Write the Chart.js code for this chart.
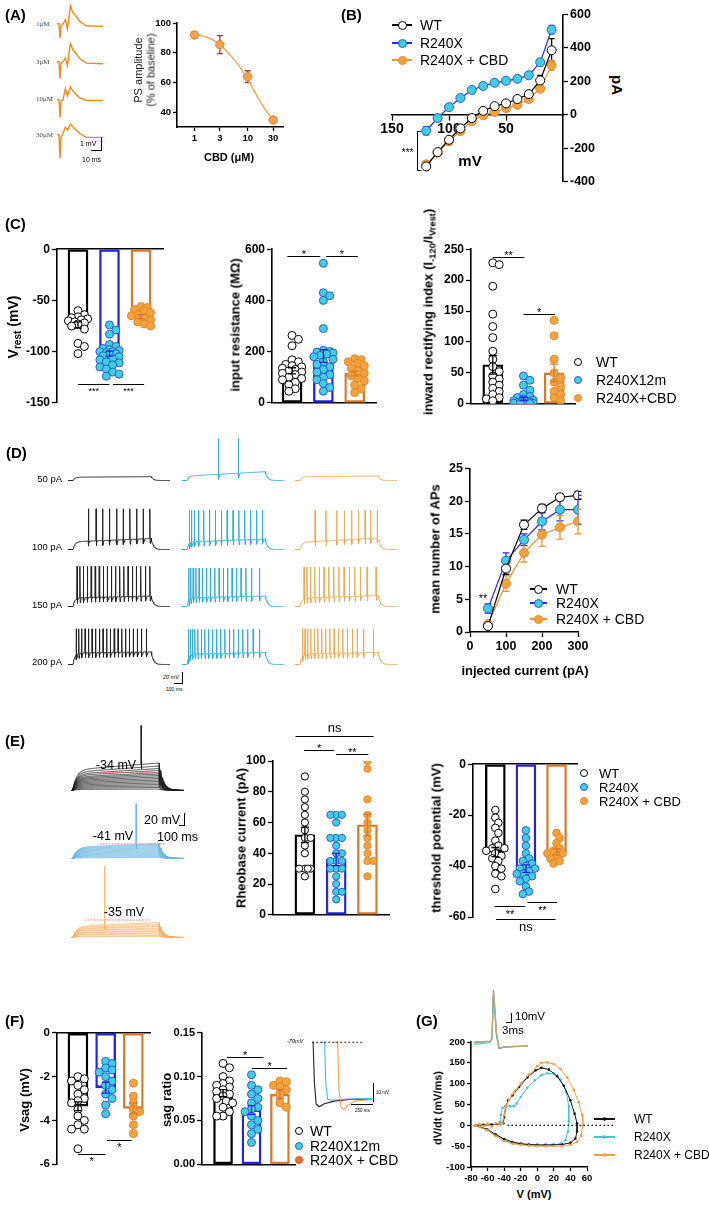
<!DOCTYPE html>
<html>
<head>
<meta charset="utf-8">
<title>R240X / CBD figure</title>
<script src="https://cdn.jsdelivr.net/npm/chart.js@4.4.1/dist/chart.umd.min.js"></script>
<style>
  html, body { margin: 0; padding: 0; background: #fff; }
  #fig { position: relative; width: 709px; height: 1205px; overflow: hidden; background: #fff; }
  #fig canvas { position: absolute; }
  .t { position: absolute; white-space: nowrap; color: #000; }
  .t sub { font-size: 0.72em; vertical-align: -0.28em; line-height: 0; }
  .r { position: absolute; background: #000; }
</style>
</head>
<body>
<div id="fig"></div>
<script>
// ---------- (A) CBD dose response ----------
const cbdConc = [1, 3, 10, 30];
const psAmp = [92, 85.5, 64, 35];
const psSem = [2, 6, 4, 1];
const psFitConc = [1, 2, 3, 5, 7, 10, 15, 20, 30];
const psFitAmp = [92.5, 89.5, 85.5, 77.5, 71, 62, 51, 43.5, 35];
const psTraceNames = ['1μM', '3μM', '10μM', '30μM'];
const psTraceTime = [0, 2, 3, 4, 6, 8.4, 10.4, 13.4, 16, 18, 22.7, 29.4, 46];   // ms
const psTraces = [                                                              // mV
  [0, 0, -1.1, -0.15, 0, 0.3, -0.4, 1.38, 0.82, 0.7, 0.18, -0.15, -0.2],
  [0, 0, -1.3, -0.1, 0, 0.3, -0.3, 1.4, 0.9, 0.75, 0.25, -0.1, -0.15],
  [0, 0, -1.35, -0.1, 0, 0.85, 0.3, 1.0, 0.65, 0.5, 0.15, -0.05, -0.05],
  [0, 0, -1.8, -0.2, 0.1, 0.6, 0.35, 0.82, 0.6, 0.45, 0.1, -0.2, -0.2]
];

// ---------- (B) I-V ----------
const ivVoltage = [-120, -110, -100, -90, -80, -70, -60, -50, -40, -30, -20, -10];
const ivWT = [-310, -224, -150, -82, -20, 23, 51, 68, 94, 123, 205, 386];
const ivR240X = [-96, -20, 45, 100, 148, 172, 191, 203, 215, 236, 314, 509];
const ivCBD = [-297, -228, -160, -98, -39, -4, 16, 39, 59, 94, 156, 295];
const ivSemWT = [20, 15, 12, 10, 8, 8, 8, 8, 10, 12, 30, 70];
const ivSemR240X = [25, 10, 10, 10, 10, 10, 10, 10, 10, 12, 15, 25];
const ivSemCBD = [15, 12, 10, 8, 8, 8, 8, 8, 8, 10, 15, 30];
const groupNames = ['WT', 'R240X', 'R240X + CBD'];
const groupNames12m = ['WT', 'R240X12m', 'R240X+CBD'];
const groupNamesF = ['WT', 'R240X12m', 'R240X + CBD'];

// ---------- (C) passive properties ----------
const vrestMean = [-74, -102, -66];
const vrestSem = [3, 2.5, 2];
const vrestWT = [-60, -64, -66, -67, -68, -69, -70, -71, -72, -73, -75, -78, -92, -95, -102];
const vrestR240X = [-74, -79, -83, -93, -95, -97, -98, -99, -100, -100, -101, -102, -103, -104, -105, -107, -108, -110, -111, -113, -115, -117, -120, -122, -124];
const vrestCBD = [-56, -57, -59, -60, -62, -64, -65, -67, -69, -71, -73, -75];
const rinMean = [125, 183, 115];
const rinSem = [12, 25, 10];
const rinWT = [263, 248, 223, 168, 160, 150, 145, 140, 135, 130, 125, 120, 115, 110, 100, 95, 90, 80, 70, 55, 45];
const rinR240X = [545, 430, 418, 400, 290, 205, 200, 198, 195, 190, 185, 180, 170, 160, 150, 140, 130, 120, 110, 100, 90, 75, 60, 45];
const rinCBD = [172, 168, 160, 155, 145, 135, 125, 115, 105, 95, 85, 70, 55, 40];
const rectMean = [63, 8, 50];
const rectSem = [15, 3, 14];
const rectWT = [228, 225, 190, 145, 125, 107, 85, 72, 60, 52, 45, 40, 35, 30, 25, 20, 15, 10, 8, 5];
const rectR240X = [45, 38, 30, 22, 15, 12, 10, 8, 6, 5, 4, 3, 3, 2, 2, 1, 1, 1, 0.5, 0.5];
const rectCBD = [135, 110, 72, 50, 42, 35, 28, 20, 15, 10, 5];

// ---------- (D) firing ----------
const apCurrent = [50, 100, 150, 200, 250, 300];
const apWT = [0.9, 9.7, 16.4, 18.9, 20.6, 20.9];
const apR240X = [3.6, 10.9, 14.1, 16.9, 18.7, 18.7];
const apCBD = [1.2, 7.4, 12.1, 14.9, 16.0, 16.9];
const apSemWT = [0.3, 0.9, 0.7, 0.6, 0.5, 0.6];
const apSemR240X = [0.7, 1.2, 0.9, 1.3, 1.7, 2.2];
const apSemCBD = [0.4, 1.2, 1.4, 1.8, 1.8, 1.9];
const dStepNames = ['50 pA', '100 pA', '150 pA', '200 pA'];
const dSpikesWT = [
  [],
  [207, 286, 354, 421, 497, 564, 632, 701, 768, 836],
  [92, 122, 158, 196, 236, 277, 318, 360, 402, 444, 486, 528, 570, 612, 655, 698, 742, 790, 836],
  [85, 110, 140, 174, 209, 245, 282, 319, 357, 395, 433, 471, 510, 549, 588, 627, 667, 707, 750, 800]
];
const dSpikesR240X = [
  [371, 575],
  [75, 98, 128, 170, 222, 280, 340, 400, 460, 520, 580, 640, 700, 760, 820],
  [70, 90, 114, 142, 174, 210, 250, 292, 335, 378, 422, 466, 510, 556, 602, 652, 710, 790],
  [65, 84, 106, 132, 162, 196, 233, 272, 312, 353, 395, 438, 482, 527, 573, 620, 670, 725, 790]
];
const dSpikesCBD = [
  [],
  [204, 316, 425, 503, 578, 646, 714, 772, 840],
  [92, 122, 160, 202, 248, 296, 345, 396, 448, 500, 554, 610, 668, 735, 826],
  [78, 102, 130, 162, 197, 234, 273, 314, 356, 399, 443, 488, 535, 584, 636, 700, 800]
];
const dPlateauWT = [[-64, -63], [-56, -50], [-54, -51], [-49, -47]];
const dPlateauR240X = [[-62, -54], [-56, -51], [-54, -51], [-51, -48]];
const dPlateauCBD = [[-63, -62], [-57, -49], [-55, -50], [-51, -48]];
const dPeakWT = [0, 4, 3, -5];
const dPeakR240X = [6, 1, 0, -6];
const dPeakCBD = [0, 1, 2, -5];

// ---------- (E) rheobase / threshold ----------
const rheoMean = [52, 36, 58.5];
const rheoSem = [5, 4, 7];
const rheoWT = [90, 80, 75, 70, 65, 60, 55, 50, 50, 45, 40, 30, 30, 30, 30, 25];
const rheoR240X = [65, 65, 65, 60, 50, 50, 50, 45, 40, 40, 35, 35, 35, 30, 30, 30, 25, 20, 15, 15, 10];
const rheoCBD = [100, 95, 75, 65, 60, 55, 50, 45, 40, 35, 35, 25];
const thrMean = [-34.5, -41, -34.5];
const thrSem = [1.8, 1.5, 1.2];
const thrWT = [-18, -21, -23, -25, -27, -30, -32, -33, -33, -34, -35, -36, -37, -38, -40, -41, -43, -44, -49];
const thrR240X = [-26, -29, -32, -35, -37, -38, -39, -40, -41, -41, -42, -43, -43, -44, -45, -46, -48, -50, -51];
const thrCBD = [-27, -29, -31, -33, -34, -35, -35, -36, -37, -38, -39];
const eLevelsWT = [-67, -64, -61, -58, -55, -52, -49, -46, -43, -40, -37, -34, -30, -26, -21, -15];
const eLevelsR240X = [-68, -66, -64, -62, -60, -58, -56, -54, -52, -50, -48, -46, -44, -42, -40];
const eLevelsCBD = [-68, -66, -63, -61, -58, -56, -53, -51, -48, -46, -43, -40];
const eThreshold = [-34, -41, -35];
const eSpikeTime = [700, 650, 335];
const eSpikePeak = [60, 40, 73];

// ---------- (F) sag ----------
const vsagMean = [-3.35, -2.5, -3.45];
const vsagSem = [0.2, 0.25, 0.25];
const vsagWT = [-2.0, -2.1, -2.2, -2.4, -2.6, -2.8, -3.0, -3.1, -3.2, -3.5, -3.8, -4.0, -4.2, -4.4, -4.4, -5.3];
const vsagR240X = [-1.3, -1.4, -1.6, -1.7, -1.8, -2.0, -2.2, -2.4, -2.6, -2.8, -3.0, -3.3, -3.7];
const vsagCBD = [-2.3, -2.9, -3.2, -3.5, -3.6, -3.8, -4.2, -4.6];
const sagMean = [0.081, 0.062, 0.080];
const sagSem = [0.004, 0.005, 0.005];
const sagWT = [0.115, 0.11, 0.10, 0.095, 0.092, 0.09, 0.088, 0.085, 0.083, 0.08, 0.078, 0.075, 0.072, 0.07, 0.065, 0.06, 0.055, 0.055];
const sagR240X = [0.102, 0.09, 0.085, 0.08, 0.075, 0.07, 0.065, 0.063, 0.06, 0.055, 0.05, 0.045, 0.04, 0.035, 0.025];
const sagCBD = [0.095, 0.094, 0.09, 0.088, 0.085, 0.08, 0.07, 0.065];
const sagTraceWT = [[300, -70], [310, -70], [325, -92], [345, -103], [380, -104.5], [430, -103], [550, -101.5], [750, -100.5], [980, -100.5]];
const sagTraceR240X = [[400, -70], [440, -70], [455, -92], [475, -100.5], [520, -101], [650, -100.5], [980, -100]];
const sagTraceCBD = [[540, -70], [590, -70], [605, -95], [630, -105], [660, -106], [700, -104], [780, -101.5], [980, -100.5]];

// ---------- (G) phase plots ----------
const gVmWT = [-75, -65, -55, -45, -41, -40, -38, -35, -30, -22, -12, -2, 5, 14, 24, 32, 40, 45, 48, 48, 46, 40, 30, 20, 10, 0, -10, -20, -30, -40, -50, -60, -70, -75];
const gDvWT = [0, 1, 2, 3, 5, 20, 45, 60, 72, 92, 115, 132, 138, 134, 118, 95, 60, 28, 5, -15, -32, -42, -46, -47, -47, -47, -46, -44, -40, -33, -22, -10, -3, 0];
const gVmR240X = [-75, -60, -48, -45, -44, -42, -38, -33, -28, -25, -20, -12, -3, 5, 12, 20, 28, 35, 38, 38, 37, 34, 28, 18, 8, -2, -12, -22, -32, -42, -52, -62, -75];
const gDvR240X = [0, 1, 3, 8, 25, 42, 47, 46, 46, 52, 68, 90, 108, 120, 125, 124, 110, 80, 45, 10, -15, -35, -44, -47, -48, -48, -47, -45, -42, -34, -22, -10, 0];
const gVmCBD = [-75, -70, -65, -60, -55, -50, -45, -42, -40, -38, -34, -28, -20, -10, 0, 5, 12, 20, 28, 36, 44, 50, 54, 55, 53, 48, 40, 30, 20, 10, 0, -10, -20, -30, -40, -50, -60, -70, -75];
const gDvCBD = [0, 3, -2, 4, -3, 5, 2, 6, 25, 45, 62, 80, 100, 122, 142, 150, 151, 147, 135, 115, 85, 55, 25, 0, -25, -40, -47, -50, -50, -50, -50, -49, -47, -44, -38, -26, -12, -4, 0];
const apShapeWT = [[0, -45.5], [8, -44.5], [9, -41], [9.7, 20], [10.4, -5], [11.2, -35], [12.5, -53], [15, -51.5], [20, -50.5], [27, -50]];
const apShapeR240X = [[0, -48], [8, -46], [9, -41], [9.7, 15], [10.4, -8], [11.2, -37], [12.5, -52.5], [15, -51], [27, -50]];
const apShapeCBD = [[0, -45], [8, -44], [9, -40], [9.8, 18], [10.5, -3], [11.3, -34], [12.7, -53], [15, -51.5], [27, -50.2]];

// ---------- styling ----------
const FONT = "'Liberation Sans', Arial, Helvetica, sans-serif";
const COL = {
  wt:  { line: '#000', fill: '#fff', edge: '#000', bar: '#000' },
  mut: { line: '#2b2bd9', fill: '#43cde0', edge: '#2a5fd0', bar: '#2323e0' },
  cbd: { line: '#e8963a', fill: '#f5a23e', edge: '#e0892a', bar: '#d67a2c' }
};
const GROUPS = [COL.wt, COL.mut, COL.cbd];
const fig = document.getElementById('fig');

Chart.defaults.font.family = FONT;
Chart.defaults.color = '#000';
Chart.defaults.animation = false;
Chart.defaults.responsive = false;
Chart.defaults.events = [];
Chart.defaults.plugins.legend.display = false;
Chart.defaults.plugins.tooltip.enabled = false;

// error bars, significance bars and small extra marks
function drawExtras(ch, o) {
  const ctx = ch.ctx, xs = ch.scales.x, ys = ch.scales.y;
  ctx.save();
  (o.err || []).forEach(e => {
    const x = xs.getPixelForValue(e.x);
    const ya = ys.getPixelForValue(e.y - e.e), yb = ys.getPixelForValue(e.y + e.e);
    const cw = e.cap || 4;
    ctx.strokeStyle = e.c; ctx.lineWidth = e.w || 1.3;
    ctx.beginPath();
    ctx.moveTo(x, ya); ctx.lineTo(x, yb);
    ctx.moveTo(x - cw, ya); ctx.lineTo(x + cw, ya);
    ctx.moveTo(x - cw, yb); ctx.lineTo(x + cw, yb);
    ctx.stroke();
  });
  (o.sig || []).forEach(s => {
    const xa = xs.getPixelForValue(s.x1), xb = xs.getPixelForValue(s.x2), y = Math.round(ys.getPixelForValue(s.y)) + 0.5;
    ctx.strokeStyle = '#000'; ctx.lineWidth = 1;
    ctx.beginPath(); ctx.moveTo(xa, y); ctx.lineTo(xb, y); ctx.stroke();
    ctx.fillStyle = '#000';
    ctx.font = `${s.fs || 11}px ${FONT}`;
    ctx.textAlign = 'center'; ctx.textBaseline = 'middle';
    ctx.fillText(s.t, (xa + xb) / 2, y + s.ty);
  });
  if (o.draw) o.draw(ch, ctx);
  ctx.restore();
}
Chart.register({
  id: 'extras',
  beforeDatasetsDraw(ch, args, o) { if (o.under) drawExtras(ch, o); },
  afterDatasetsDraw(ch, args, o) { if (!o.under) drawExtras(ch, o); }
});

function canvasAt(left, top, w, h) {
  const c = document.createElement('canvas');
  c.width = w; c.height = h;
  c.style.left = left + 'px'; c.style.top = top + 'px';
  c.style.width = w + 'px'; c.style.height = h + 'px';
  fig.appendChild(c);
  return c;
}

// area = [x0, x1, yTop, yBottom] of the plot, m = [left, right, top, bottom] margins
function chart(area, m, cfg, pad) {
  const left = Math.round(area[0] - m[0]), top = Math.round(area[2] - m[2]);
  const w = Math.round(area[1] - area[0] + m[0] + m[1]);
  const h = Math.round(area[3] - area[2] + m[2] + m[3]);
  const c = canvasAt(left, top, w, h);
  cfg.options.devicePixelRatio = 1;
  cfg.options.layout = { autoPadding: false, padding: pad || { left: 0, right: m[1], top: m[2], bottom: 0 } };
  return new Chart(c, cfg);
}

function yAxis(min, max, ticks, w, o = {}) {
  return {
    type: 'linear', position: o.pos || 'left', min, max,
    afterBuildTicks: s => { s.ticks = ticks.map(v => ({ value: v })); },
    afterFit: s => { s.width = w; },
    ticks: { color: '#000', font: { family: FONT, size: o.fs || 12, weight: 'bold' }, padding: o.pad ?? 2, autoSkip: false, callback: o.cb || (v => String(v)) },
    grid: { display: true, drawOnChartArea: false, drawTicks: true, tickLength: o.tl ?? 5, tickWidth: 1.3, tickColor: '#000' },
    border: { display: true, color: '#000', width: 1.6 }
  };
}
function xAxis(type, min, max, ticks, h, o = {}) {
  return {
    type, min, max, position: o.pos || 'bottom', offset: false,
    afterBuildTicks: s => { s.ticks = ticks.map(v => ({ value: v })); },
    afterFit: s => { s.height = h; },
    ticks: { color: '#000', font: { family: FONT, size: o.fs || 12, weight: 'bold' }, padding: o.pad ?? 2, maxRotation: 0, autoSkip: false, callback: o.cb || (v => String(v)) },
    grid: { display: true, drawOnChartArea: false, drawTicks: true, tickLength: o.tl ?? 5, tickWidth: 1.3, tickColor: '#000' },
    border: { display: true, color: '#000', width: 1.6 }
  };
}
function xHidden(min, max, pos) {
  return { type: 'linear', min, max, position: pos, offset: false,
    afterFit: s => { s.height = 0; },
    ticks: { display: false }, grid: { display: false },
    border: { display: true, color: '#000', width: 1.6 } };
}

// spread overlapping points sideways (layout only, kept within about one bar width)
function swarm(vals, pxY, r) {
  const order = vals.map((v, i) => i).sort((a, b) => vals[b] - vals[a]);
  const placed = [], off = [];
  const step = r * 0.8, minD = r * 1.55;
  order.forEach(i => {
    const y = vals[i] * pxY;
    let best = 0, bestD = -1;
    for (let k = 0; k < 7; k++) {
      const x = (k % 2 ? 1 : -1) * Math.ceil(k / 2) * step;
      const d = placed.reduce((acc, p) => Math.min(acc, Math.hypot(p[0] - x, p[1] - y)), 1e9);
      if (d >= minD) { best = x; break; }
      if (d > bestD) { bestD = d; best = x; }
    }
    placed.push([best, y]);
    off[i] = best;
  });
  return off;
}

function barPanel(area, m, xr, yr, yTicks, mean, sem, ptsList, o) {
  const pxX = (area[1] - area[0]) / (xr[1] - xr[0]);
  const pxY = (area[3] - area[2]) / (yr[1] - yr[0]);
  const sets = ptsList.map((vals, g) => {
    const off = swarm(vals, pxY, o.r);
    return { type: 'scatter', order: 1, data: vals.map((v, j) => ({ x: g + off[j] / pxX, y: v })),
      pointRadius: o.r, pointBackgroundColor: GROUPS[g].fill, pointBorderColor: GROUPS[g].edge, pointBorderWidth: 1 };
  });
  sets.push({ type: 'bar', order: 5, data: mean.map((v, g) => ({ x: g, y: v })), backgroundColor: 'rgba(0,0,0,0)',
    borderColor: GROUPS.map(s => s.bar), borderWidth: 1.7, borderSkipped: false, barThickness: o.bw });
  return chart(area, m, { type: 'bar', data: { datasets: sets }, options: {
    scales: { x: xHidden(xr[0], xr[1], o.top ? 'top' : 'bottom'), y: yAxis(yr[0], yr[1], yTicks, m[0], { fs: o.fs, cb: o.cb }) },
    plugins: { extras: { err: mean.map((v, g) => ({ x: g, y: v, e: sem[g], c: GROUPS[g].bar, cap: o.cap || 5 })), sig: o.sig } }
  } }, { left: 0, right: m[1], top: m[2], bottom: m[3] });
}

function lineSet(xs, ys, s, r) {
  return { data: xs.map((x, i) => ({ x, y: ys[i] })), borderColor: s.line, borderWidth: 1.2, tension: 0,
    pointRadius: r, pointBackgroundColor: s.fill, pointBorderColor: s.edge, pointBorderWidth: 1 };
}
function errSet(xs, ys, es, c, cap) {
  return xs.map((x, i) => ({ x, y: ys[i], e: es[i], c, cap }));
}

// raw-trace mini charts (hidden axes)
function traceChart(left, top, w, h, xr, yr, sets) {
  const c = canvasAt(Math.round(left), Math.round(top), w, h);
  return new Chart(c, { type: 'line', data: { datasets: sets.map(s => ({ data: s.data, borderColor: s.c, borderWidth: s.w || 1,
      borderDash: s.dash || [], pointRadius: 0, tension: 0, clip: false })) },
    options: { devicePixelRatio: 1, layout: { autoPadding: false, padding: 0 },
      scales: { x: { type: 'linear', display: false, min: xr[0], max: xr[1] }, y: { type: 'linear', display: false, min: yr[0], max: yr[1] } } } });
}
function stepTrace(rest, on, off, end, v0, v1, spikes, peak, tau) {
  const during = t => rest + (v0 - rest) * (1 - Math.exp(-(t - on) / tau)) + (v1 - v0) * (t - on) / (off - on);
  const vOff = during(off);
  const base = t => t <= on ? rest : t <= off ? during(t) : rest + (vOff - rest) * Math.exp(-(t - off) / tau);
  const times = [0, on, off, end];
  for (let t = on + 2; t < end; t += 6) times.push(t);
  const pts = times.filter(t => !spikes.some(s => t > s - 2 && t < s + 14)).map(t => ({ x: t, y: base(t) }));
  spikes.forEach(s => {
    const b = base(s);
    pts.push({ x: s - 2, y: base(s - 2) }, { x: s, y: peak }, { x: s + 2.5, y: b - 9 }, { x: s + 7, y: b - 4 }, { x: s + 14, y: base(s + 14) });
  });
  return pts.sort((a, b) => a.x - b.x);
}

// html text / marks
function text(html, x, y, o = {}) {
  const d = document.createElement('div');
  d.className = 't';
  d.innerHTML = html;
  d.style.font = `${o.b ? 'bold ' : ''}${o.it ? 'italic ' : ''}${o.fs || 12}px ${o.fam || FONT}`;
  d.style.lineHeight = '1';
  if (o.color) d.style.color = o.color;
  d.style.left = x + 'px'; d.style.top = y + 'px';
  let tr = o.align === 'center' ? 'translate(-50%,-50%)' : o.align === 'right' ? 'translate(-100%,-50%)' : 'translate(0,-50%)';
  if (o.rot) tr = `translate(-50%,-50%) rotate(${o.rot}deg)`;
  d.style.transform = tr;
  fig.appendChild(d);
}
function rule(x, y, w, h, c) {
  const d = document.createElement('div');
  d.className = 'r';
  d.style.left = x + 'px'; d.style.top = y + 'px'; d.style.width = w + 'px'; d.style.height = h + 'px';
  if (c) d.style.background = c;
  fig.appendChild(d);
}
function legend(x, ys, labels, styles, o) {
  labels.forEach((lab, i) => {
    const y = ys[i], s = styles[i];
    if (o.lw) rule(x, y - 0.75, o.lw, 1.5, s.line);
    const r = o.r, cx = x + (o.lw ? o.lw / 2 : r);
    const mk = document.createElement('div');
    mk.style.cssText = `position:absolute;left:${cx - r}px;top:${y - r}px;width:${2 * r}px;height:${2 * r}px;border-radius:50%;box-sizing:border-box;border:1px solid ${o.solid ? s.line : s.edge};background:${o.solid ? s.line : s.fill}`;
    fig.appendChild(mk);
    text(lab, x + o.tx, y, { fs: o.fs });
  });
}

// ================= (A) =================
const psBase = [24, 61.7, 99.3, 135];
psTraces.forEach((tr, i) => {
  traceChart(57, psBase[i] - 20.8, 46, 52, [0, 46], [-2.4, 1.6],
    [{ data: psTraceTime.map((t, j) => ({ x: t, y: tr[j] })), c: '#f08a1c', w: 1.4 }]);
  text(psTraceNames[i], 36, psBase[i], { fs: 7, fam: "'Liberation Serif', serif", color: '#444' });
});
rule(101, 137, 1, 14); rule(91, 150, 11, 1);
text('1 mV', 80, 143, { fs: 7 });
text('10 ms', 82, 159, { fs: 7 });

chart([177, 283, 23, 127], [30, 14, 8, 18], {
  type: 'line',
  data: { datasets: [
    { data: cbdConc.map((c, i) => ({ x: c, y: psAmp[i] })), showLine: false, pointRadius: 4.2,
      pointBackgroundColor: '#f5a24a', pointBorderColor: '#d9822b', pointBorderWidth: 1 },
    { data: psFitConc.map((c, i) => ({ x: c, y: psFitAmp[i] })), borderColor: '#f2a04c', borderWidth: 1.3,
      pointRadius: 0, cubicInterpolationMode: 'monotone' }
  ] },
  options: {
    scales: { x: xAxis('logarithmic', 0.47, 46, cbdConc, 18, { fs: 9.5, tl: 4 }), y: yAxis(30.3, 100, [40, 60, 80, 100], 30, { fs: 9.5, tl: 4 }) },
    plugins: { extras: { under: true, err: errSet(cbdConc, psAmp, psSem, '#9b3a4e', 3) } }
  }
});
text('PS amplitude', 138, 70, { fs: 11, rot: -90, color: '#222' });
text('(% of baseline)', 151, 70, { fs: 11, rot: -90, color: '#222' });
text('CBD (μM)', 229, 157, { fs: 11, b: true, align: 'center' });

// ================= (B) =================
chart([392, 563, 13, 183], [16, 44, 8, 8], {
  type: 'line',
  data: { datasets: [
    lineSet(ivVoltage, ivWT, COL.wt, 4.5),
    lineSet(ivVoltage, ivR240X, COL.mut, 4.5),
    lineSet(ivVoltage, ivCBD, COL.cbd, 4.5)
  ] },
  options: {
    scales: {
      x: Object.assign(xAxis('linear', -150, 0, [-150, -100, -50], 0, { fs: 14, cb: v => String(Math.abs(v)), pad: 1 }), { position: { y: 0 } }),
      y: yAxis(-400, 600, [-400, -200, 0, 200, 400, 600], 44, { fs: 12.5, pos: 'right' })
    },
    plugins: { extras: { under: true,
      err: [].concat(errSet(ivVoltage, ivWT, ivSemWT, '#000', 3), errSet(ivVoltage, ivR240X, ivSemR240X, COL.mut.line, 3), errSet(ivVoltage, ivCBD, ivSemCBD, COL.cbd.line, 3)),
      draw: (ch, ctx) => {
        const xs = ch.scales.x, ys = ch.scales.y;
        const x = Math.round(xs.getPixelForValue(-128)) + 0.5, ya = ys.getPixelForValue(-100), yb = ys.getPixelForValue(-335);
        ctx.strokeStyle = '#000'; ctx.lineWidth = 1;
        ctx.beginPath(); ctx.moveTo(x + 4, ya); ctx.lineTo(x, ya); ctx.lineTo(x, yb); ctx.lineTo(x + 4, yb); ctx.stroke();
        ctx.fillStyle = '#000'; ctx.font = `10px ${FONT}`; ctx.textAlign = 'right'; ctx.textBaseline = 'middle';
        ctx.fillText('***', x - 4, (ya + yb) / 2 + 2);
      } } }
  }
}, { left: 16, right: 0, top: 8, bottom: 8 });
legend(392, [25, 43, 60], groupNames, GROUPS, { lw: 20, r: 4.5, tx: 28, fs: 14 });
text('mV', 470, 160, { fs: 15, b: true, align: 'center' });
text('pA', 617, 85, { fs: 15, b: true, rot: 90 });

// ================= (C) =================
barPanel([57, 163, 248, 406], [44, 4, 8, 6], [-0.667, 2.7], [-150, 0], [-150, -100, -50, 0],
  vrestMean, vrestSem, [vrestWT, vrestR240X, vrestCBD],
  { bw: 20, r: 4, fs: 12, top: true, cap: 4,
    sig: [{ x1: 0, x2: 1, y: -132, t: '***', ty: 7, fs: 9 }, { x1: 1.11, x2: 2.1, y: -132, t: '***', ty: 7, fs: 9 }] });
text('V<sub>rest</sub> (mV)', 13, 327, { fs: 14, b: true, rot: -90 });

barPanel([272, 376, 248, 406], [44, 4, 8, 6], [-0.64, 2.68], [0, 600], [0, 200, 400, 600],
  rinMean, rinSem, [rinWT, rinR240X, rinCBD],
  { bw: 20, r: 4, fs: 12, cap: 4,
    sig: [{ x1: -0.15, x2: 0.9, y: 572, t: '*', ty: -2 }, { x1: 1.09, x2: 2.1, y: 572, t: '*', ty: -2 }] });
text('input resistance (MΩ)', 235, 325, { fs: 13, b: true, rot: -90 });

barPanel([471, 575, 248, 407], [44, 4, 8, 6], [-0.71, 2.68], [0, 250], [0, 50, 100, 150, 200, 250],
  rectMean, rectSem, [rectWT, rectR240X, rectCBD],
  { bw: 20, r: 4, fs: 12, cap: 4,
    sig: [{ x1: 0, x2: 1.03, y: 238, t: '**', ty: -2 }, { x1: 1.0, x2: 2.03, y: 146, t: '*', ty: -2 }] });
text('inward rectifying index (I<sub>-120</sub>/I<sub>Vrest</sub>)', 428, 312, { fs: 13, b: true, rot: -90 });
legend(574, [362, 380, 398], groupNames12m, GROUPS, { r: 4, tx: 22, fs: 14 });

// ================= (D) =================
const dCols = [68, 182, 295];
const dBase = [480.7, 549, 606.7, 664.3];
const dColors = ['#222', '#34acd6', '#e9ac5a'];
const dSpikes = [dSpikesWT, dSpikesR240X, dSpikesCBD];
const dPlateau = [dPlateauWT, dPlateauR240X, dPlateauCBD];
const dPeak = [dPeakWT, dPeakR240X, dPeakCBD];
dBase.forEach((yb, row) => {
  dCols.forEach((xl, g) => {
    const p = dPlateau[g][row];
    traceChart(xl, yb - 49.5, 102, 55, [0, 1040], [-80, 20],
      [{ data: stepTrace(-70, 50, 850, 1040, p[0], p[1], dSpikes[g][row], dPeak[g][row], 20), c: dColors[g], w: 1 }]);
  });
  text(dStepNames[row], 62, yb - 2, { fs: 9.5, align: 'right' });
});
rule(182, 672, 1, 12); rule(174, 683, 9, 1);
text('20 mV', 163, 678, { fs: 5.5, it: true });
text('100 ms', 166, 689, { fs: 5 });

chart([470, 578, 467, 632], [30, 16, 8, 22], {
  type: 'line',
  data: { datasets: [
    lineSet(apCurrent, apWT, COL.wt, 4.5),
    lineSet(apCurrent, apR240X, COL.mut, 4.5),
    lineSet(apCurrent, apCBD, COL.cbd, 4.5)
  ] },
  options: {
    scales: { x: xAxis('linear', 0, 300, [0, 100, 200, 300], 22, { fs: 12.5 }), y: yAxis(0, 25, [0, 5, 10, 15, 20, 25], 30, { fs: 12.5 }) },
    plugins: { extras: { under: true,
      err: [].concat(errSet(apCurrent, apWT, apSemWT, '#000', 3.5), errSet(apCurrent, apR240X, apSemR240X, COL.mut.line, 3.5), errSet(apCurrent, apCBD, apSemCBD, COL.cbd.line, 3.5)) } }
  }
});
legend(530, [589, 603, 619], groupNames, GROUPS, { lw: 17, r: 4.5, tx: 26, fs: 14 });
text('**', 483, 598, { fs: 11, align: 'center' });
text('mean number of APs', 435, 549, { fs: 13, b: true, rot: -90 });
text('injected current (pA)', 525, 670, { fs: 13, b: true, align: 'center' });

// ================= (E) =================
const eBase = [790, 858, 937];
const eColors = ['#1e1e1e', '#6cb8df', '#f2b36a'];
const eLevels = [eLevelsWT, eLevelsR240X, eLevelsCBD];
const eThrSpan = [[290, 890], [290, 940], [140, 790]];
eBase.forEach((yb, g) => {
  const sets = eLevels[g].map((lv, i) => ({
    data: stepTrace(-70, 15, 880, 1130, -70 + 0.75 * (lv + 70), lv, i === eLevels[g].length - 1 ? [eSpikeTime[g]] : [], eSpikePeak[g], 40),
    c: eColors[g], w: 0.8 }));
  sets.unshift({ data: eThrSpan[g].map(t => ({ x: t, y: eThreshold[g] })), c: '#e57b6f', w: 1, dash: [1.5, 1.5] });
  traceChart(71, yb + 2.5 - 75, 113, 75, [0, 1130], [-75, 75], sets);
});
text('-34 mV', 116, 765, { fs: 12.5, align: 'center' });
text('-41 mV', 113, 836, { fs: 12.5, align: 'center' });
text('-35 mV', 124, 912, { fs: 12.5, align: 'center' });
rule(184, 813, 1.3, 13); rule(179, 825, 6, 1.3);
text('20 mV', 144, 820, { fs: 12.5 });
text('100 ms', 157, 837, { fs: 12.5 });

barPanel([273, 389, 761, 918], [44, 4, 42, 6], [-1.02, 2.69], [0, 100], [0, 20, 40, 60, 80, 100],
  rheoMean, rheoSem, [rheoWT, rheoR240X, rheoCBD],
  { bw: 20, r: 3.6, fs: 12, cap: 4,
    sig: [{ x1: -0.03, x2: 0.94, y: 107, t: '*', ty: -2 }, { x1: 1.0, x2: 2.03, y: 104.3, t: '**', ty: -2 },
          { x1: -0.3, x2: 2.2, y: 116, t: 'ns', ty: -8, fs: 13 }] });
text('Rheobase current (pA)', 241, 838, { fs: 13, b: true, rot: -90 });

barPanel([473, 577, 763, 917], [44, 4, 8, 20], [-0.73, 2.67], [-60, 0], [-60, -40, -20, 0],
  thrMean, thrSem, [thrWT, thrR240X, thrCBD],
  { bw: 20, r: 3.8, fs: 12, top: true, cap: 4,
    sig: [{ x1: -0.02, x2: 0.98, y: -55.5, t: '**', ty: 8 }, { x1: 1.05, x2: 2.02, y: -54, t: '**', ty: 8 },
          { x1: 0.02, x2: 1.97, y: -60.6, t: 'ns', ty: 8, fs: 13 }] });
text('threshold potential (mV)', 436, 838, { fs: 13, b: true, rot: -90 });
legend(580, [773, 787, 801], groupNames, GROUPS, { r: 4, tx: 19, fs: 13 });

// ================= (F) =================
barPanel([57, 150, 1032, 1167], [44, 4, 8, 6], [-0.755, 2.6], [-6, 0], [-6, -4, -2, 0],
  vsagMean, vsagSem, [vsagWT, vsagR240X, vsagCBD],
  { bw: 20, r: 4, fs: 11.5, top: true, cap: 4,
    sig: [{ x1: 0, x2: 0.99, y: -5.54, t: '*', ty: 7 }, { x1: 1.05, x2: 1.94, y: -4.9, t: '*', ty: 7 }] });
text('Vsag (mV)', 24, 1100, { fs: 13, b: true, rot: -90 });

barPanel([202, 295, 1032, 1167], [44, 4, 8, 6], [-0.74, 2.53], [0, 0.15], [0, 0.05, 0.10, 0.15],
  sagMean, sagSem, [sagWT, sagR240X, sagCBD],
  { bw: 19, r: 4, fs: 11, cap: 4, cb: v => v.toFixed(2),
    sig: [{ x1: 0.14, x2: 1.42, y: 0.1226, t: '*', ty: -2 }, { x1: 1.02, x2: 2.25, y: 0.1098, t: '*', ty: -2 }] });
text('sag ratio', 166, 1100, { fs: 13, b: true, rot: -90 });
legend(295, [1131, 1146, 1160], groupNamesF, [COL.wt, COL.mut, { line: '#f0682a', fill: '#f36d2c', edge: '#e05a1e' }], { r: 4, tx: 15, fs: 14 });

traceChart(286, 1031, 91, 90, [0, 1040], [-112.1, -64], [
  { data: [{ x: 300, y: -70 }, { x: 870, y: -70 }], c: '#222', w: 1, dash: [2, 2] },
  { data: sagTraceCBD.map(p => ({ x: p[0], y: p[1] })), c: '#f0a04a', w: 1.1 },
  { data: sagTraceR240X.map(p => ({ x: p[0], y: p[1] })), c: '#46b9e0', w: 1.1 },
  { data: sagTraceWT.map(p => ({ x: p[0], y: p[1] })), c: '#222', w: 1.1 }
]);
text('-70mV', 287, 1042, { fs: 5.5, it: true });
rule(373, 1083, 1, 19); rule(351, 1104, 22, 1);
text('10 mV', 376, 1093, { fs: 4.5 });
text('250 ms', 355, 1111, { fs: 4.5 });

// ================= (G) =================
chart([471, 587, 1042, 1167], [34, 30, 8, 18], {
  type: 'line',
  data: { datasets: [
    { data: [{ x: -36, y: 0 }, { x: 92, y: 0 }], borderColor: '#000', borderWidth: 1.2, borderDash: [1.5, 2.5], pointRadius: 0, clip: false },
    { data: gVmCBD.map((v, i) => ({ x: v, y: gDvCBD[i] })), borderColor: '#f0a04c', borderWidth: 1, pointRadius: 1.4, pointBackgroundColor: '#f0a04c', pointBorderWidth: 0 },
    { data: gVmWT.map((v, i) => ({ x: v, y: gDvWT[i] })), borderColor: '#111', borderWidth: 1, pointRadius: 1.3, pointBackgroundColor: '#111', pointBorderWidth: 0 },
    { data: gVmR240X.map((v, i) => ({ x: v, y: gDvR240X[i] })), borderColor: '#3ec9c9', borderWidth: 1, pointRadius: 1.3, pointBackgroundColor: '#3ec9c9', pointBorderWidth: 0 }
  ] },
  options: {
    scales: { x: xAxis('linear', -80, 60, [-80, -60, -40, -20, 0, 20, 40, 60], 18, { fs: 9.5, tl: 4 }),
              y: yAxis(-100, 200, [-100, -50, 0, 50, 100, 150, 200], 34, { fs: 9.5, tl: 4 }) }
  }
});
text('dV/dt (mV/ms)', 438, 1108, { fs: 11, b: true, rot: -90 });
text('V (mV)', 534, 1194, { fs: 11, b: true, align: 'center' });
legend(594, [1119, 1137, 1155], groupNames, [{ line: '#111' }, { line: '#3ec9c9' }, { line: '#f0a04c' }], { lw: 21, r: 1.6, tx: 40, fs: 12, solid: true });

traceChart(474, 986, 56, 64, [0, 28], [-55, 25], [
  { data: apShapeCBD.map(p => ({ x: p[0], y: p[1] })), c: '#c9a37a', w: 1.2 },
  { data: apShapeR240X.map(p => ({ x: p[0], y: p[1] })), c: '#48cfcf', w: 1.2 },
  { data: apShapeWT.map(p => ({ x: p[0], y: p[1] })), c: '#8d8070', w: 1.2 }
]);
rule(511, 1013, 1.3, 10); rule(506, 1022, 6, 1.3);
text('10mV', 515, 1017, { fs: 11.5 });
text('3ms', 502, 1031, { fs: 11.5 });

// ================= panel letters =================
text('(A)', 5, 14, { fs: 15, b: true });
text('(B)', 341, 14, { fs: 15, b: true });
text('(C)', 5, 223, { fs: 15, b: true });
text('(D)', 6, 452, { fs: 15, b: true });
text('(E)', 5, 740, { fs: 15, b: true });
text('(F)', 5, 1020, { fs: 15, b: true });
text('(G)', 416, 1020, { fs: 15, b: true });
</script>
</body>
</html>
